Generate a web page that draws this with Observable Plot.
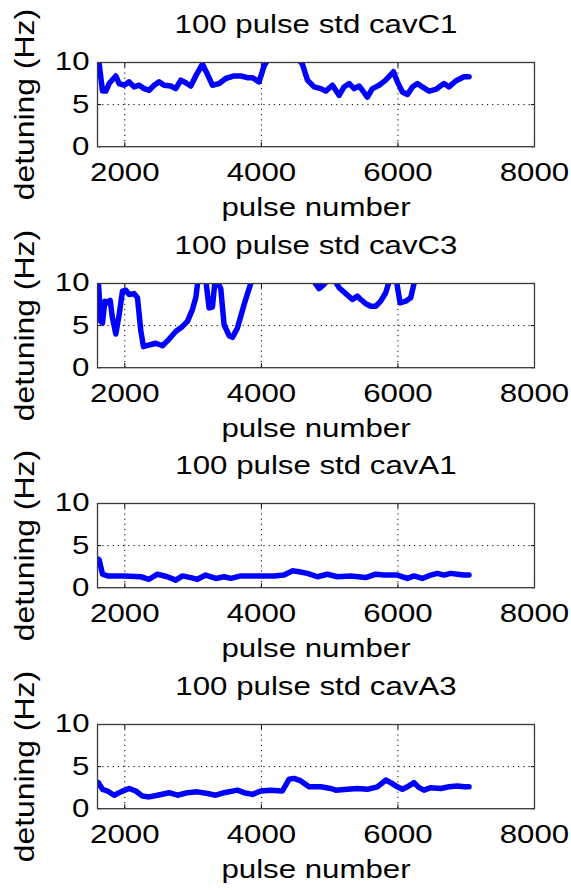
<!DOCTYPE html>
<html><head><meta charset="utf-8">
<script src="https://cdn.jsdelivr.net/npm/d3@7"></script>
<script src="https://cdn.jsdelivr.net/npm/@observablehq/plot@0.6"></script>
<style>
body{margin:0;background:#fff;}
#chart svg{display:block;}
</style></head><body><div id="chart"></div>
<script>
const titles = ["100 pulse std cavC1", "100 pulse std cavC3", "100 pulse std cavA1", "100 pulse std cavA3"];
const xLabel = "pulse number";
const yLabel = "detuning (Hz)";
const xTicks = [2000, 4000, 6000, 8000];
const yTicks = [0, 5, 10];
const xGrid = [2000, 4000, 6000];
const yGrid = [5];

const c1Pulse = [1610,1673,1722,1770,1868,1917,1990,2063,2136,2210,2283,2356,2429,2502,2576,2673,2746,2820,2893,2966,3039,3137,3210,3283,3381,3478,3600,3698,3796,3869,3966,4040,4113,4300,4540,4601,4675,4772,4870,4943,5041,5138,5211,5285,5358,5431,5480,5553,5626,5724,5821,5934,5992,6065,6139,6212,6285,6358,6456,6553,6675,6749,6846,6968,7041];
const c1Std = [10.8,6.6,6.6,7.5,8.4,7.5,7.3,7.7,7.1,7.3,6.9,6.7,7.3,7.7,7.3,7.2,6.9,7.9,7.6,7.2,8.4,9.8,8.6,7.3,7.5,8.1,8.4,8.4,8.2,8.2,7.7,9.6,10.6,12.5,10.4,9.8,7.9,7.1,6.9,6.6,7.3,6.1,7.1,7.5,6.9,7.2,6.7,5.9,6.9,7.3,7.9,8.9,7.7,6.5,6.2,7.1,7.5,7.1,6.6,6.8,7.5,7.1,7.8,8.3,8.3];

const c3Pulse = [1610,1648,1673,1707,1746,1785,1819,1868,1917,1966,2014,2063,2136,2185,2234,2273,2356,2454,2551,2649,2746,2844,2917,2990,3039,3073,3130,3185,3234,3283,3317,3356,3405,3454,3527,3576,3649,3747,3844,3893,4300,4740,4845,4919,4990,5080,5138,5236,5333,5406,5455,5529,5602,5675,5748,5821,5870,5940,5985,6031,6114,6187,6236,6280,6600,7041];
const c3Std = [10.5,5.5,5.3,7.9,7.7,8.0,5.9,4.0,6.3,9.1,9.2,8.7,8.8,8.3,4.4,2.5,2.7,2.9,2.6,3.4,4.3,4.9,5.5,6.9,8.3,10.5,11.5,10.5,7.1,7.2,10.0,10.2,9.4,5.1,3.8,3.6,4.7,7.5,10.0,11.0,14.0,10.6,9.4,9.9,10.6,10.3,9.5,8.8,8.1,8.5,8.1,7.6,7.3,7.3,7.9,8.9,10.2,11.0,10.0,7.7,7.9,8.3,10.0,11.0,13.0,12.0];

const a1Pulse = [1610,1624,1673,1746,1990,2234,2356,2478,2624,2746,2844,2966,3063,3185,3332,3454,3552,3698,3942,4186,4332,4454,4552,4674,4820,4967,5113,5308,5528,5674,5796,5992,6138,6236,6358,6480,6577,6675,6772,6870,6968,7041];
const a1Std = [3.4,3.3,1.6,1.4,1.4,1.3,1.0,1.6,1.3,0.9,1.4,1.2,1.0,1.5,1.1,1.3,1.1,1.4,1.4,1.4,1.5,2.0,1.9,1.7,1.3,1.6,1.3,1.4,1.2,1.6,1.5,1.5,1.1,1.4,1.1,1.5,1.7,1.5,1.7,1.6,1.5,1.5];

const a3Pulse = [1610,1673,1746,1844,1941,2063,2161,2258,2356,2478,2649,2771,2917,3063,3210,3332,3454,3649,3747,3869,3991,4137,4308,4406,4479,4577,4698,4869,5016,5089,5260,5406,5552,5699,5821,5894,5992,6065,6138,6236,6309,6382,6480,6626,6748,6870,6968,7041];
const a3Std = [3.1,2.3,2.1,1.6,2.0,2.4,2.1,1.5,1.4,1.6,1.9,1.6,1.9,2.0,1.8,1.6,1.9,2.2,1.9,1.7,2.1,2.2,2.1,3.5,3.6,3.3,2.6,2.6,2.4,2.2,2.3,2.4,2.3,2.6,3.4,3.1,2.6,2.3,2.6,3.1,2.5,2.2,2.5,2.4,2.6,2.7,2.6,2.6];

const series = [[c1Pulse, c1Std], [c3Pulse, c3Std], [a1Pulse, a1Std], [a3Pulse, a3Std]];

function panel(title, pulse, std) {
  const data = pulse.map((p, i) => ({pulse: p, std: std[i]}));
  return Plot.plot({
    width: 571, height: 220.7,
    marginLeft: 97, marginRight: 37, marginTop: 62, marginBottom: 74.5,
    style: {fontFamily: "'Liberation Sans', Arial, sans-serif", background: "#fff", color: "#000", overflow: "visible"},
    x: {domain: [1600, 8000]},
    y: {domain: [0, 10]},
    marks: [
      Plot.ruleX(xGrid, {x: d => d, stroke: "#000", strokeWidth: 1, strokeDasharray: "1.2,4"}),
      Plot.ruleY(yGrid, {y: d => d, stroke: "#000", strokeWidth: 1, strokeDasharray: "1.2,4"}),
      Plot.axisX(xTicks, {anchor: "bottom", tickSize: -4, fill: "none", label: null, stroke: "#000"}),
      Plot.axisX(xTicks, {anchor: "top", tickSize: -4, fill: "none", label: null, stroke: "#000"}),
      Plot.axisY(yTicks, {anchor: "left", tickSize: -4, fill: "none", label: null, stroke: "#000"}),
      Plot.axisY(yTicks, {anchor: "right", tickSize: -4, fill: "none", label: null, stroke: "#000"}),
      Plot.line(data, {x: "pulse", y: "std", stroke: "#0000ff", strokeWidth: 5.5, strokeLinejoin: "round", clip: true}),
      Plot.frame({stroke: "#3a3a3a", strokeWidth: 1.3}),
      Plot.text(xTicks, {x: d => d, text: d => `${d}`, frameAnchor: "bottom", lineAnchor: "bottom", dy: 34, fontSize: 25, fill: "#000"}),
      Plot.text(yTicks, {y: d => d, text: d => `${d}`, frameAnchor: "left", textAnchor: "end", dx: -8, fontSize: 25, fill: "#000"}),
      Plot.text([title], {text: d => d, frameAnchor: "top", lineAnchor: "bottom", dy: -29, fontSize: 25, fill: "#000"}),
      Plot.text([xLabel], {text: d => d, frameAnchor: "bottom", lineAnchor: "bottom", dy: 69, fontSize: 25, fill: "#000"}),
      Plot.text([yLabel], {text: d => d, frameAnchor: "left", textAnchor: "middle", rotate: -90, dx: -72, fontSize: 27, fill: "#000"})
    ]
  });
}

const root = document.getElementById("chart");
titles.forEach((t, i) => root.appendChild(panel(t, series[i][0], series[i][1])));

// widen glyphs horizontally like the reference rendering
root.querySelectorAll("svg text").forEach(t => {
  const rotated = (t.getAttribute("transform") || "").includes("rotate");
  const k = rotated ? 1.18 : 1.25;
  const len = t.getComputedTextLength();
  if (len > 0) {
    t.setAttribute("textLength", (len * k).toFixed(1));
    t.setAttribute("lengthAdjust", "spacingAndGlyphs");
  }
});
</script>
</body></html>
